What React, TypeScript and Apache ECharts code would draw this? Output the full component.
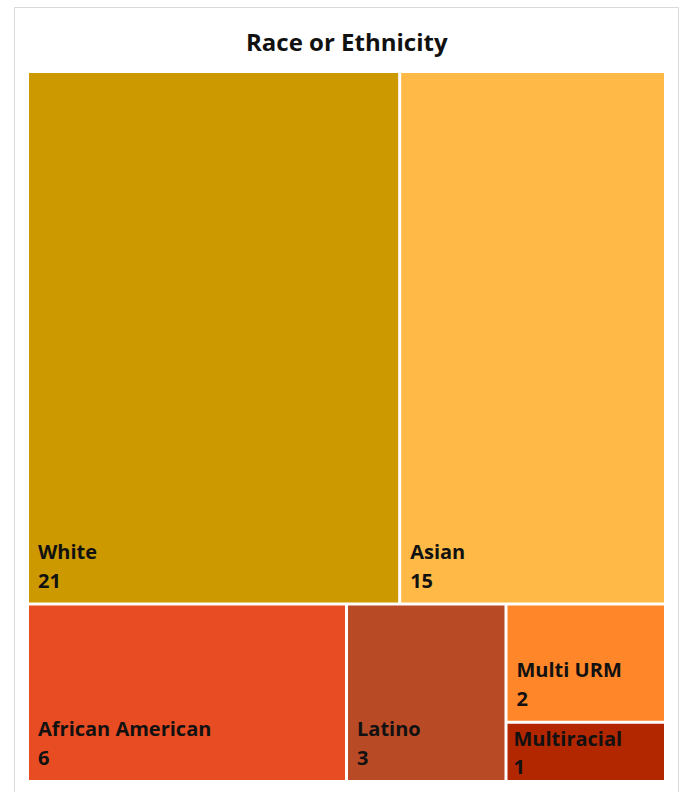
import React, { useEffect, useRef } from "react";
import * as echarts from "echarts";

const categories = ["White", "Asian", "African American", "Latino", "Multi URM", "Multiracial"];
const counts = [21, 15, 6, 3, 2, 1];
const colors = ["#CC9900", "#FFB946", "#E84C22", "#B84A26", "#FF8629", "#B22600"];
const chartTitle = "Race or Ethnicity";

export default function App() {
  const ref = useRef<HTMLDivElement>(null);
  useEffect(() => {
    if (!ref.current) return;
    const chart = echarts.init(ref.current, null, { renderer: "svg" });
    const data = categories.map((name, i) => ({
      name,
      value: counts[i],
      itemStyle: { color: colors[i] },
      label: name === "Multiracial" ? { padding: [0, 0, 0, 6], lineHeight: 28 } : undefined,
    }));
    chart.setOption({
      animation: false,
      title: {
        text: chartTitle,
        left: 241,
        top: 24,
        textStyle: { fontFamily: "Open Sans", fontWeight: "bold", fontSize: 24, color: "#111" },
      },
      graphic: [
        {
          type: "rect",
          shape: { x: 14.5, y: 7.5, width: 664, height: 800 },
          style: { fill: "none", stroke: "#d9d9d9", lineWidth: 1 },
          silent: true,
        },
      ],
      series: [
        {
          type: "treemap",
          left: 29,
          top: 73,
          right: 17,
          bottom: 12,
          roam: false,
          nodeClick: false,
          breadcrumb: { show: false },
          squareRatio: 1,
          sort: "desc",
          levels: [
            { itemStyle: { gapWidth: 3, borderWidth: 0, borderColor: "#fff" } },
            { itemStyle: { borderWidth: 0, gapWidth: 0 } },
          ],
          label: {
            show: true,
            position: "insideBottomLeft",
            distance: 0,
            padding: [0, 0, 8, 9],
            formatter: "{b}\n{c}",
            fontFamily: "Open Sans",
            fontWeight: "bold",
            fontSize: 20,
            lineHeight: 29,
            color: "#111",
            overflow: "none",
          },
          data,
        },
      ],
    });
    return () => chart.dispose();
  }, []);
  return (
    <div
      ref={ref}
      style={{ position: "fixed", left: 0, top: 0, width: 681, height: 792, background: "#fff" }}
    />
  );
}
